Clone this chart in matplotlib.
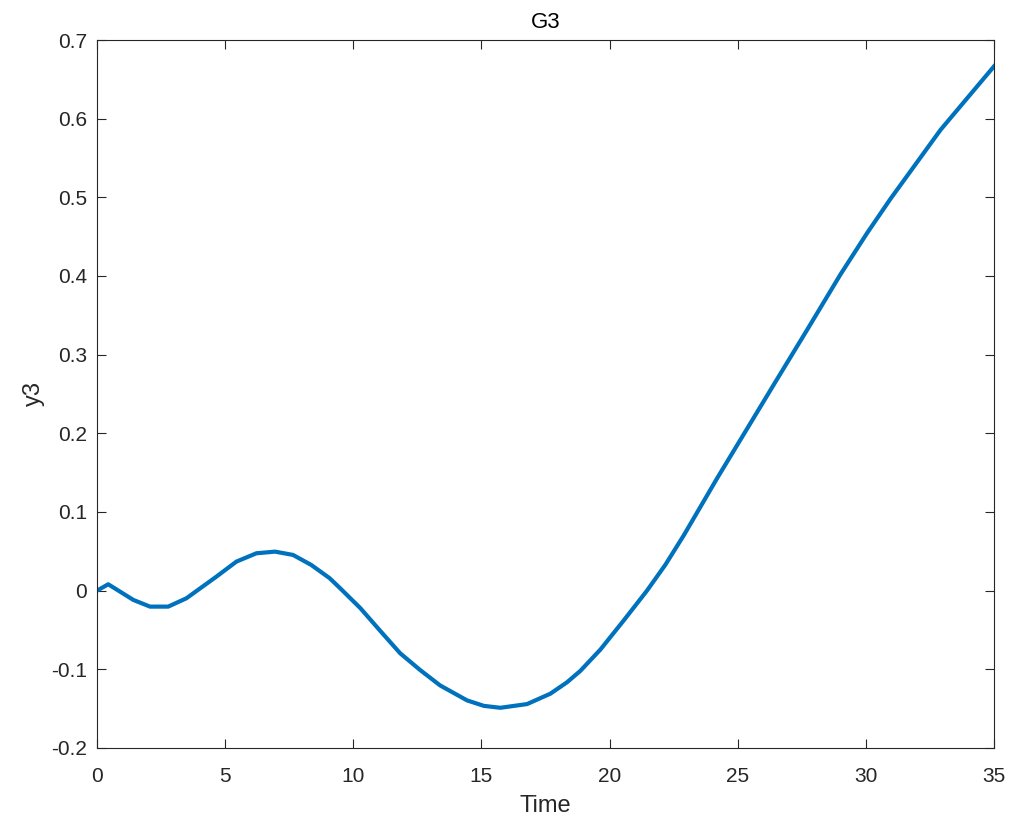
import matplotlib.pyplot as plt

# --- Data ---
time = [0.0, 0.44, 1.42, 2.07, 2.78, 3.49, 4.66, 5.44, 6.22, 6.95, 7.65, 8.36,
        9.08, 9.49, 10.27, 11.05, 11.83, 12.61, 13.39, 14.44, 15.1, 15.74,
        16.78, 17.69, 18.34, 18.86, 19.64, 20.55, 21.46, 22.18, 22.89, 24.2,
        25.24, 26.41, 27.71, 29.01, 30.05, 30.96, 32.92, 35.0]
y3 = [0.0, 0.0081, -0.0118, -0.0203, -0.0203, -0.0097, 0.0178, 0.0369, 0.0475,
      0.0496, 0.0454, 0.0327, 0.0158, 0.003, -0.022, -0.051, -0.0796,
      -0.1009, -0.1205, -0.1395, -0.1465, -0.1489, -0.1442, -0.131, -0.1165,
      -0.102, -0.075, -0.038, 0.0, 0.033, 0.070, 0.143, 0.199, 0.262, 0.3316,
      0.402, 0.4546, 0.498, 0.586, 0.6665]

x_ticks = [0, 5, 10, 15, 20, 25, 30, 35]
y_ticks = [-0.2, -0.1, 0, 0.1, 0.2, 0.3, 0.4, 0.5, 0.6, 0.7]
y_tick_labels = ['-0.2', '-0.1', '0', '0.1', '0.2', '0.3', '0.4', '0.5', '0.6', '0.7']

# --- Plotting ---
plt.rcParams['font.family'] = ['Liberation Sans', 'DejaVu Sans']

fig = plt.figure(figsize=(10.26, 8.18), dpi=100)
ax = fig.add_axes([0.0945, 0.0856, 0.8743, 0.8655])

ax.plot(time, y3, color='#0072BD', linewidth=3.0)

ax.set_xlim(0, 35)
ax.set_ylim(-0.2, 0.7)
ax.set_xticks(x_ticks)
ax.set_xticklabels([str(t) for t in x_ticks])
ax.set_yticks(y_ticks)
ax.set_yticklabels(y_tick_labels)

axis_color = '#262626'
for side in ax.spines.values():
    side.set_color(axis_color)
    side.set_linewidth(0.8)
ax.tick_params(direction='in', length=6.5, width=0.8, colors=axis_color,
               labelsize=15, top=True, right=True)
ax.tick_params(axis='x', pad=14)
ax.tick_params(axis='y', pad=7)

ax.set_title('G3', fontsize=16, color='black', pad=9)
ax.set_xlabel('Time', fontsize=17, color=axis_color, labelpad=6)
ax.set_ylabel('y3', fontsize=17, color=axis_color, labelpad=4.5)

plt.savefig('out.png', dpi=100)
